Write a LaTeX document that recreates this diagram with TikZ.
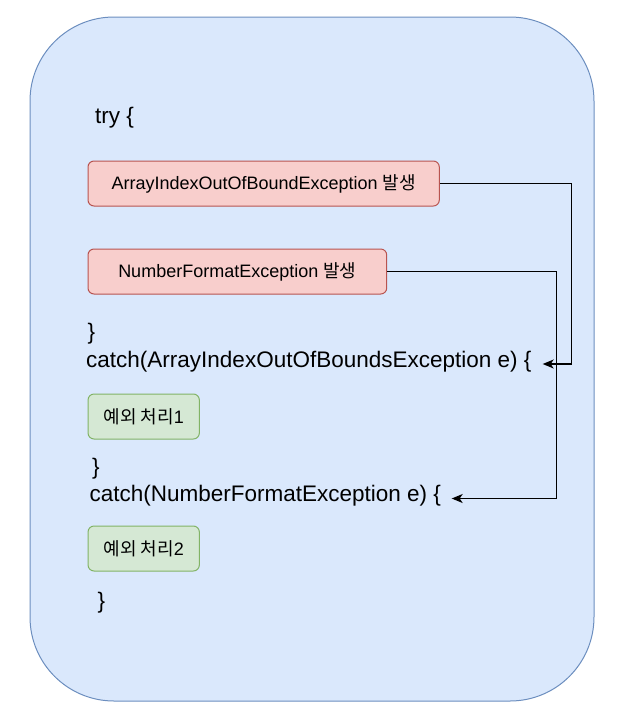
\documentclass[tikz,border=0pt]{standalone}
\usepackage{fontspec}
\setmainfont{Liberation Sans}
\newfontfamily\kr{Noto Sans CJK KR}
\usetikzlibrary{arrows.meta}
\definecolor{bgfill}{HTML}{DAE8FC}
\definecolor{bgline}{HTML}{6C8EBF}
\definecolor{redfill}{HTML}{F8CECC}
\definecolor{redline}{HTML}{B85450}
\definecolor{grnfill}{HTML}{D5E8D4}
\definecolor{grnline}{HTML}{82B366}
\tikzset{
  code/.style={anchor=base west, inner sep=0pt, font=\fontsize{22.5}{27}\selectfont},
  redbox/.style={draw=redline, fill=redfill, line width=1pt, rounded corners=6pt, minimum height=45pt, inner sep=0pt, font=\fontsize{18}{22}\selectfont},
  grnbox/.style={draw=grnline, fill=grnfill, line width=1pt, rounded corners=6pt, minimum height=45pt, minimum width=111.3pt, inner sep=0pt, font=\fontsize{18}{22}\selectfont},
  arr/.style={draw=black, line width=1.2pt, -{Stealth[length=11pt,width=9pt,inset=3pt]}},
}
\begin{document}
\begin{tikzpicture}[x=1pt,y=-1pt]
\useasboundingbox (0,0) rectangle (626,721);
\draw[draw=bgline, fill=bgfill, line width=1pt, rounded corners=84pt] (30,17) rectangle (594,701);

\node[code] (try) at (95,123) {try \{};
\node[redbox, minimum width=351.3pt] (b1) at (263.65,183.5) {ArrayIndexOutOfBoundException {\kr 발생}};
\node[redbox, minimum width=298.7pt] (b2) at (237.35,271.5) {NumberFormatException {\kr 발생}};
\node[code] (cl1) at (87.3,339) {\}};
\node[code] (c1) at (86,367) {catch(ArrayIndexOutOfBoundsException e) \{};
\node[grnbox] (g1) at (143.7,416.5) {{\kr 예외 처리}1};
\node[code] (cl2) at (92,474.7) {\}};
\node[code] (c2) at (89.3,501.5) {catch(NumberFormatException e) \{};
\node[grnbox] (g2) at (143.7,548.5) {{\kr 예외 처리}2};
\node[code] (cl3) at (97.3,608.7) {\}};

\coordinate (t1) at (542.7,364);
\coordinate (t2) at (451.7,498.5);
\coordinate (r1) at (571.7,0);
\coordinate (r2) at (556.3,0);
\draw[arr] (b1.east) -- (b1.east -| r1) -- (r1 |- t1) -- (t1);
\draw[arr] (b2.east) -- (b2.east -| r2) -- (r2 |- t2) -- (t2);
\end{tikzpicture}
\end{document}
